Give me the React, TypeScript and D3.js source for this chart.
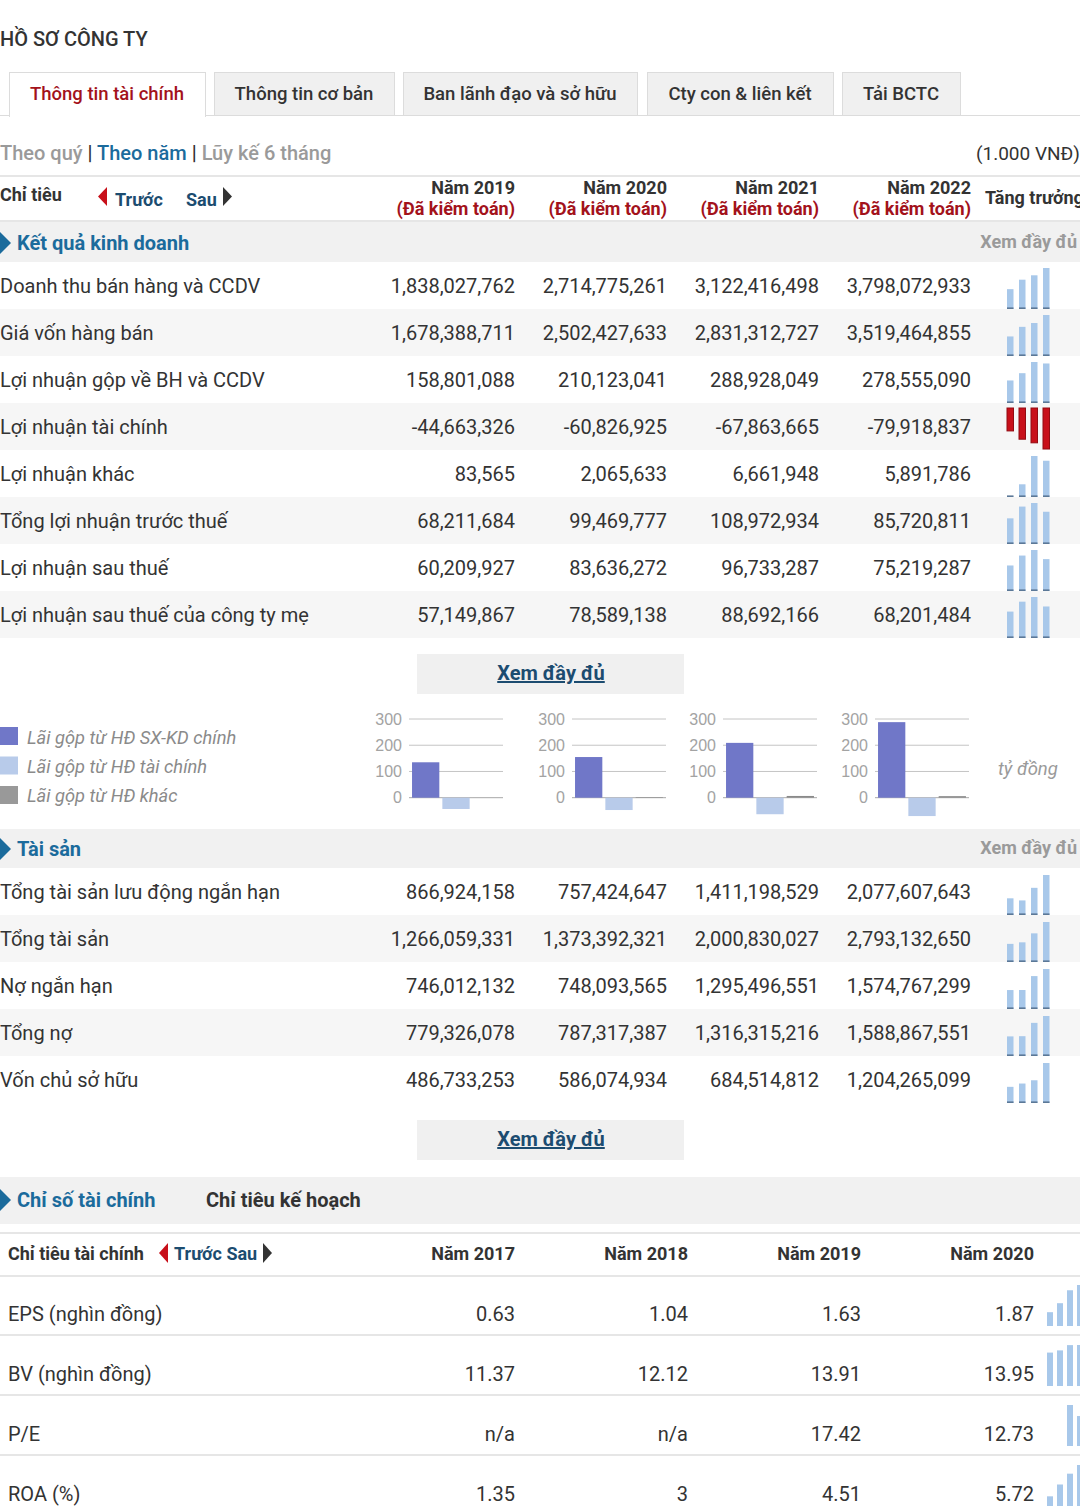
import React from "react";
import * as d3 from "d3";

// ---------- DATA ----------
const pageTitle = "HỒ SƠ CÔNG TY";
const tabs = ["Thông tin tài chính", "Thông tin cơ bản", "Ban lãnh đạo và sở hữu", "Cty con & liên kết", "Tải BCTC"];
const periodYears = ["Năm 2019", "Năm 2020", "Năm 2021", "Năm 2022"];
const auditNote = "(Đã kiểm toán)";

const incomeItems = [
  "Doanh thu bán hàng và CCDV",
  "Giá vốn hàng bán",
  "Lợi nhuận gộp về BH và CCDV",
  "Lợi nhuận tài chính",
  "Lợi nhuận khác",
  "Tổng lợi nhuận trước thuế",
  "Lợi nhuận sau thuế",
  "Lợi nhuận sau thuế của công ty mẹ",
];
const incomeValues = [
  [1838027762, 2714775261, 3122416498, 3798072933],
  [1678388711, 2502427633, 2831312727, 3519464855],
  [158801088, 210123041, 288928049, 278555090],
  [-44663326, -60826925, -67863665, -79918837],
  [83565, 2065633, 6661948, 5891786],
  [68211684, 99469777, 108972934, 85720811],
  [60209927, 83636272, 96733287, 75219287],
  [57149867, 78589138, 88692166, 68201484],
];

const assetItems = ["Tổng tài sản lưu động ngắn hạn", "Tổng tài sản", "Nợ ngắn hạn", "Tổng nợ", "Vốn chủ sở hữu"];
const assetValues = [
  [866924158, 757424647, 1411198529, 2077607643],
  [1266059331, 1373392321, 2000830027, 2793132650],
  [746012132, 748093565, 1295496551, 1574767299],
  [779326078, 787317387, 1316315216, 1588867551],
  [486733253, 586074934, 684514812, 1204265099],
];

const legendLabels = ["Lãi gộp từ HĐ SX-KD chính", "Lãi gộp từ HĐ tài chính", "Lãi gộp từ HĐ khác"];
const profitSXKD = [135, 155, 209, 288];
const profitTaiChinh = [-43, -47, -63, -70];
const profitKhac = [0.08, 2.07, 6.66, 5.89];
const miniTicks = [0, 100, 200, 300];
const unitLabel = "tỷ đồng";

const ratioYears = ["Năm 2017", "Năm 2018", "Năm 2019", "Năm 2020"];
const ratioItems = ["EPS (nghìn đồng)", "BV (nghìn đồng)", "P/E", "ROA (%)"];
const ratioValues: (number | null)[][] = [
  [0.63, 1.04, 1.63, 1.87],
  [11.37, 12.12, 13.91, 13.95],
  [null, null, 17.42, 12.73],
  [1.35, 3, 4.51, 5.72],
];

// ---------- LAYOUT / STYLE ----------
const W = 1080;
const H = 1511;
const FONT = "Roboto, 'Noto Sans', sans-serif";
const TXT = "#333";
const BLUE = "#1b6b9c";
const NAVY = "#1c4c70";
const RED = "#a3121b";
const GRAY = "#9a9a9a";
const BAND = "#f1f1f1";
const ROWALT = "#f6f6f6";
const LINE = "#e6e6e6";
const SPARK = "#a8c8ea";
const SPARK_DARK = "#5b7897";

const tabEdges = [
  [9, 205],
  [214, 394],
  [403, 637],
  [647, 833],
  [842, 960],
];
const colRight = [515, 667, 819, 971];
const ratioColRight = [515, 688, 861, 1034];
const ROWH = 47;
const miniGridStart = [409, 572, 723, 875];
const MINI_W = 94;
const HDR = 18;

const fmt = d3
  .formatLocale({ decimal: ".", thousands: ",", grouping: [3], currency: ["", ""], minus: "-" })
  .format(",");

function Spark({
  values,
  x0,
  step,
  bw,
  top,
  bottom,
  maxH,
  underline,
}: {
  values: (number | null)[];
  x0: number;
  step: number;
  bw: number;
  top: number;
  bottom: number;
  maxH: number;
  underline: boolean;
}) {
  const n = values.length;
  const xs = d3
    .scaleBand<number>()
    .domain(d3.range(n))
    .range([x0, x0 + step * (n - (1 - bw / step))])
    .paddingInner(1 - bw / step)
    .paddingOuter(0);
  const maxAbs = d3.max(values, (v) => (v == null ? 0 : Math.abs(v))) || 1;
  const h = d3.scaleLinear().domain([0, maxAbs]).range([0, maxH]);
  const allNeg = values.every((v) => v == null || v < 0);
  return (
    <g>
      {values.map((v, i) => {
        if (v == null) return null;
        const hh = h(Math.abs(v));
        const x = xs(i)!;
        if (allNeg) {
          return (
            <rect key={i} x={x} y={top} width={xs.bandwidth()} height={hh} fill="#c8101a" stroke="#920b12" strokeWidth={1} />
          );
        }
        return (
          <g key={i}>
            <rect x={x} y={bottom - hh} width={xs.bandwidth()} height={hh} fill={SPARK} />
            {underline && <rect x={x} y={bottom - 1.6} width={xs.bandwidth()} height={1.6} fill={SPARK_DARK} />}
          </g>
        );
      })}
    </g>
  );
}

function MiniChart({ gx, idx }: { gx: number; idx: number }) {
  const y = d3.scaleLinear().domain([0, 300]).range([797.7, 719]);
  const x = d3
    .scaleBand<string>()
    .domain(["a", "b", "c"])
    .range([gx, gx + MINI_W])
    .paddingInner(0.1)
    .paddingOuter(0.1);
  const vals = [profitSXKD[idx], profitTaiChinh[idx], profitKhac[idx]];
  const cols = ["#7077c8", "#b8cbea", "#8a8a8a"];
  return (
    <g>
      {miniTicks.map((t) => (
        <g key={t}>
          <line x1={gx} x2={gx + MINI_W} y1={y(t)} y2={y(t)} stroke={t === 0 ? "#a8a8a8" : "#c4c4c4"} strokeWidth={1} />
          <text
            x={gx - 7}
            y={y(t) + 5.5}
            textAnchor="end"
            fontSize={16}
            fill="#a3a3a3"
            fontFamily="'Liberation Sans', Arial, sans-serif"
          >
            {t}
          </text>
        </g>
      ))}
      {vals.map((v, i) => {
        const key = ["a", "b", "c"][i];
        const y0 = y(0);
        const yv = y(v);
        return (
          <rect
            key={key}
            x={x(key)!}
            y={Math.min(y0, yv)}
            width={x.bandwidth()}
            height={Math.abs(yv - y0)}
            fill={cols[i]}
          />
        );
      })}
    </g>
  );
}

export default function App() {
  const incomeTop = 262;
  const assetTop = 868;
  const ratioTop = 1277;
  const RATIO_H = 60;

  return (
    <svg
      width={W}
      height={H}
      style={{ position: "absolute", left: 0, top: 0, background: "#fff", display: "block" }}
      fontFamily={FONT}
    >
      <rect x={0} y={0} width={W} height={H} fill="#fff" />
      {/* Title */}
      <text x={0} y={46} fontSize={20} fontWeight={500} fill={TXT}>
        {pageTitle}
      </text>

      {/* Tabs */}
      <line x1={0} x2={W} y1={115.5} y2={115.5} stroke="#dcdcdc" />
      {tabs.map((t, i) => {
        const [a, b] = tabEdges[i];
        const active = i === 0;
        return (
          <g key={t}>
            <rect
              x={a + 0.5}
              y={72.5}
              width={b - a}
              height={active ? 44 : 43}
              fill={active ? "#fff" : "#f0f0f0"}
              stroke="#dcdcdc"
            />
            {active && <rect x={a + 1} y={113} width={b - a - 1} height={4} fill="#fff" />}
            <text
              x={(a + b) / 2}
              y={100}
              textAnchor="middle"
              fontSize={18.5}
              fontWeight={500}
              fill={active ? RED : TXT}
            >
              {t}
            </text>
          </g>
        );
      })}

      {/* Period selector */}
      <text x={0} y={160} fontSize={20} fontWeight={500}>
        <tspan fill={GRAY}>Theo quý </tspan>
        <tspan fill={TXT}>| </tspan>
        <tspan fill={BLUE}>Theo năm </tspan>
        <tspan fill={TXT}>| </tspan>
        <tspan fill={GRAY}>Lũy kế 6 tháng</tspan>
      </text>
      <text x={976} y={160} fontSize={19} fill={TXT}>
        (1.000 VNĐ)
      </text>

      {/* Header row */}
      <line x1={0} x2={W} y1={176} y2={176} stroke={LINE} strokeWidth={2} />
      <text x={0} y={201} fontSize={HDR} fontWeight={700} fill={TXT}>
        Chỉ tiêu
      </text>
      <polygon points="107,187 98,196.5 107,206" fill="#c8101a" />
      <text x={115} y={206} fontSize={HDR} fontWeight={700} fill={NAVY}>
        Trước
      </text>
      <text x={186} y={206} fontSize={HDR} fontWeight={700} fill={NAVY}>
        Sau
      </text>
      <polygon points="223,187 232,196.5 223,206" fill="#333" />
      {periodYears.map((y, i) => (
        <g key={y}>
          <text x={colRight[i]} y={194} textAnchor="end" fontSize={HDR} fontWeight={700} fill={TXT}>
            {y}
          </text>
          <text x={colRight[i]} y={215} textAnchor="end" fontSize={HDR} fontWeight={700} fill={RED}>
            {auditNote}
          </text>
        </g>
      ))}
      <text x={985} y={204} fontSize={HDR} fontWeight={700} fill={TXT}>
        Tăng trưởng
      </text>
      <line x1={0} x2={W} y1={221} y2={221} stroke={LINE} strokeWidth={2} />

      {/* Section: Kết quả kinh doanh */}
      <rect x={0} y={222} width={W} height={40} fill={BAND} />
      <polygon points="0,232 11,243 0,254" fill={BLUE} />
      <text x={17} y={250} fontSize={20} fontWeight={700} fill={BLUE}>
        Kết quả kinh doanh
      </text>
      <text x={1077} y={248} textAnchor="end" fontSize={18} fontWeight={700} fill={GRAY}>
        Xem đầy đủ
      </text>

      {incomeItems.map((label, r) => {
        const top = incomeTop + r * ROWH;
        return (
          <g key={label}>
            <rect x={0} y={top} width={W} height={ROWH} fill={r % 2 === 1 ? ROWALT : "#fff"} />
            <text x={0} y={top + 31} fontSize={20} fill={TXT}>
              {label}
            </text>
            {incomeValues[r].map((v, i) => (
              <text key={i} x={colRight[i]} y={top + 31} textAnchor="end" fontSize={20} fill={TXT}>
                {fmt(v)}
              </text>
            ))}
            <Spark
              values={incomeValues[r]}
              x0={1007}
              step={12}
              bw={6.5}
              top={top + 5}
              bottom={top + ROWH}
              maxH={41}
              underline={true}
            />
          </g>
        );
      })}

      {/* Xem day du button 1 */}
      <rect x={417} y={654} width={267} height={40} fill="#f0f0f0" />
      <text x={551} y={680} textAnchor="middle" fontSize={20} fontWeight={700} fill={NAVY} textDecoration="underline">
        Xem đầy đủ
      </text>

      {/* Legend */}
      {legendLabels.map((l, i) => (
        <g key={l}>
          <rect x={0} y={727 + i * 29.5} width={18} height={18} fill={["#7077c8", "#b8cbea", "#999999"][i]} />
          <text x={27} y={744 + i * 29} fontSize={18.3} fontStyle="italic" fill="#8a8a8a">
            {l}
          </text>
        </g>
      ))}

      {/* Mini charts */}
      {miniGridStart.map((gx, i) => (
        <MiniChart key={i} gx={gx} idx={i} />
      ))}
      <text x={998} y={775} fontSize={18.5} fontStyle="italic" fill="#9a9a9a">
        {unitLabel}
      </text>

      {/* Section: Tài sản */}
      <rect x={0} y={829} width={W} height={39} fill={BAND} />
      <polygon points="0,838 11,849 0,860" fill={BLUE} />
      <text x={17} y={856} fontSize={20} fontWeight={700} fill={BLUE}>
        Tài sản
      </text>
      <text x={1077} y={854} textAnchor="end" fontSize={18} fontWeight={700} fill={GRAY}>
        Xem đầy đủ
      </text>

      {assetItems.map((label, r) => {
        const top = assetTop + r * ROWH;
        return (
          <g key={label}>
            <rect x={0} y={top} width={W} height={ROWH} fill={r % 2 === 1 ? ROWALT : "#fff"} />
            <text x={0} y={top + 31} fontSize={20} fill={TXT}>
              {label}
            </text>
            {assetValues[r].map((v, i) => (
              <text key={i} x={colRight[i]} y={top + 31} textAnchor="end" fontSize={20} fill={TXT}>
                {fmt(v)}
              </text>
            ))}
            <Spark
              values={assetValues[r]}
              x0={1007}
              step={12}
              bw={6.5}
              top={top + 5}
              bottom={top + ROWH}
              maxH={40}
              underline={true}
            />
          </g>
        );
      })}

      {/* Xem day du button 2 */}
      <rect x={417} y={1120} width={267} height={40} fill="#f0f0f0" />
      <text x={551} y={1146} textAnchor="middle" fontSize={20} fontWeight={700} fill={NAVY} textDecoration="underline">
        Xem đầy đủ
      </text>

      {/* Section: Chỉ số tài chính */}
      <rect x={0} y={1177} width={W} height={47} fill={BAND} />
      <polygon points="0,1189 11,1200 0,1211" fill={BLUE} />
      <text x={17} y={1207} fontSize={20} fontWeight={700} fill={BLUE}>
        Chỉ số tài chính
      </text>
      <text x={206} y={1207} fontSize={20} fontWeight={700} fill={TXT}>
        Chỉ tiêu kế hoạch
      </text>

      <line x1={0} x2={W} y1={1233} y2={1233} stroke={LINE} strokeWidth={2} />
      <text x={8} y={1260} fontSize={HDR} fontWeight={700} fill={TXT}>
        Chỉ tiêu tài chính
      </text>
      <polygon points="168,1243 159,1253 168,1263" fill="#c8101a" />
      <text x={174} y={1260} fontSize={HDR} fontWeight={700} fill={NAVY}>
        Trước Sau
      </text>
      <polygon points="263,1243 272,1253 263,1263" fill="#333" />
      {ratioYears.map((y, i) => (
        <text key={y} x={ratioColRight[i]} y={1260} textAnchor="end" fontSize={HDR} fontWeight={700} fill={TXT}>
          {y}
        </text>
      ))}
      <line x1={0} x2={W} y1={1276} y2={1276} stroke={LINE} strokeWidth={2} />

      {ratioItems.map((label, r) => {
        const top = ratioTop + r * RATIO_H;
        return (
          <g key={label}>
            <text x={8} y={top + 44} fontSize={20} fill={TXT}>
              {label}
            </text>
            {ratioValues[r].map((v, i) => (
              <text key={i} x={ratioColRight[i]} y={top + 44} textAnchor="end" fontSize={20} fill={TXT}>
                {v == null ? "n/a" : String(v)}
              </text>
            ))}
            <Spark
              values={ratioValues[r]}
              x0={1047}
              step={10}
              bw={6}
              top={top + 5}
              bottom={top + 49}
              maxH={41}
              underline={false}
            />
            {r < ratioItems.length - 1 && (
              <line x1={0} x2={W} y1={top + 58} y2={top + 58} stroke={LINE} strokeWidth={2} />
            )}
          </g>
        );
      })}
    </svg>
  );
}
